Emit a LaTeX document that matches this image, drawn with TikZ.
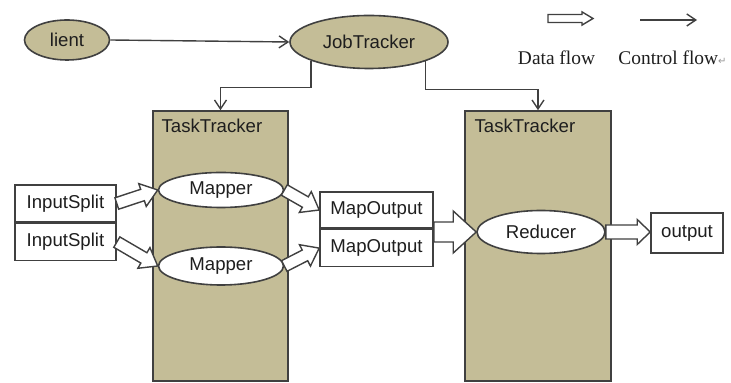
\documentclass[tikz,border=0pt]{standalone}
\usepackage{fontspec}
\setmainfont{Liberation Serif}
\setsansfont{Liberation Sans}
\newfontfamily\symbolfont{DejaVu Sans}
\usetikzlibrary{positioning, arrows.meta, calc, shapes.geometric}
\definecolor{trackertan}{RGB}{196,189,151}
\definecolor{edgegray}{RGB}{64,64,64}
\definecolor{markgray}{RGB}{150,150,150}
\definecolor{textdark}{RGB}{30,30,30}

% block arrow: from, to, shaft half-width, head half-width, head length
\newcommand\dataflow[5]{%
  \coordinate (fa-a) at (#1);
  \coordinate (fa-b) at (#2);
  \coordinate (fa-h) at ($(fa-b)!#5!(fa-a)$);
  \draw[dataarrow]
    ($(fa-a)!#3!90:(fa-b)$) -- ($(fa-h)!#3!90:(fa-b)$) -- ($(fa-h)!#4!90:(fa-b)$)
    -- (fa-b)
    -- ($(fa-h)!#4!-90:(fa-b)$) -- ($(fa-h)!#3!-90:(fa-b)$) -- ($(fa-a)!#3!-90:(fa-b)$)
    -- cycle;
}

\begin{document}
\begin{tikzpicture}[
  % pixel grid of the original, y pointing down
  x=0.5pt, y=-0.5pt,
  % text
  sanslabel/.style={font=\sffamily\fontsize{9.3}{11}\selectfont, text=textdark},
  legend/.style={font=\rmfamily\fontsize{9.7}{11}\selectfont, text=textdark, inner sep=0pt},
  % ellipses
  tanell/.style={sanslabel, ellipse, draw=edgegray, fill=trackertan,
    line width=0.8pt, inner sep=1pt},
  whiteell/.style={sanslabel, ellipse, draw=edgegray, fill=white,
    line width=0.8pt, inner sep=1pt},
  % boxes
  databox/.style={sanslabel, rectangle, draw=edgegray, fill=white,
    line width=0.8pt, inner sep=1pt},
  tracker/.style={rectangle, draw=edgegray, fill=trackertan, line width=0.8pt},
  % connectors
  ctrl/.style={draw=edgegray, line width=0.7pt,
    -{Straight Barb[length=4.5pt, width=6pt]}},
  dataarrow/.style={draw=edgegray, fill=white, line width=0.7pt, line join=miter}
]
\useasboundingbox (0,0) rectangle (731,383);

% ── Task trackers ──
\node[tracker, minimum width=67.5pt, minimum height=135pt] (tt1) at (220.5,246) {};
\node[tracker, minimum width=73pt, minimum height=135pt] (tt2) at (538,246) {};
\node[sanslabel, anchor=base west, inner sep=0pt] (tt1lbl)
  at ($(tt1.north west)+(9,22)$) {TaskTracker};
\node[sanslabel, anchor=base west, inner sep=0pt] (tt2lbl)
  at ($(tt2.north west)+(10,22)$) {TaskTracker};

% ── Client and job tracker ──
\node[tanell, minimum width=42.5pt, minimum height=20pt] (client) at (67,40) {lient};
\node[tanell, minimum width=79pt, minimum height=26.5pt] (job) at (369,42) {JobTracker};

% ── Mappers, reducer ──
\node[whiteell, minimum width=62.5pt, minimum height=17.5pt] (map1) at (221,190) {Mapper};
\node[whiteell, minimum width=62.5pt, minimum height=19pt] (map2) at (221,266) {Mapper};
\node[whiteell, minimum width=64pt, minimum height=21.5pt] (red) at (541,232) {Reducer};

% ── Data boxes ──
\node[databox, minimum width=50.5pt, minimum height=18.5pt] (is1) at (65.5,203.5) {InputSplit};
\node[databox, minimum width=50.5pt, minimum height=18.5pt, below=0pt of is1] (is2) {InputSplit};
\node[databox, minimum width=56.5pt, minimum height=18pt] (mo1) at (376.5,210) {MapOutput};
\node[databox, minimum width=56.5pt, minimum height=18.5pt, below=0pt of mo1] (mo2) {MapOutput};
\node[databox, minimum width=36pt, minimum height=20pt] (out) at (687,233) {output};

% ── Control flow ──
\draw[ctrl] (client.east) -- (job.west);
\draw[ctrl] (job.198) -- ++(0,27) -| (tt1.north);
\draw[ctrl] (job.-19) -- ++(0,28) -| (tt2.north);

% ── Data flow ──
\dataflow{is1.east}{map1.west}{3pt}{6pt}{8pt}
\dataflow{is2.east}{map2.west}{3pt}{6pt}{8pt}
\dataflow{map1.east}{mo1.west}{3pt}{6pt}{8pt}
\dataflow{map2.east}{mo2.west}{3pt}{6pt}{8pt}
\dataflow{mo1.south east |- red.west}{red.west}{5pt}{10.5pt}{11.5pt}
\dataflow{red.east}{out.west |- red.east}{3.5pt}{6.25pt}{6.5pt}

% ── Legend ──
\coordinate (dleg-a) at (548,18.5);
\coordinate (dleg-b) at (593,18.5);
\dataflow{dleg-a}{dleg-b}{2pt}{3.3pt}{5.5pt}
\coordinate (cleg-a) at (640,20);
\coordinate (cleg-b) at (697,20);
\draw[ctrl] (cleg-a) -- (cleg-b);
\node[legend, anchor=base] (dlegtext) at (556.5,65) {Data flow};
\node[legend, anchor=base west] (clegtext) at (618,65)
  {Control flow{\symbolfont\fontsize{5}{6}\selectfont\textcolor{markgray}{↵}}};

\end{tikzpicture}
\end{document}
